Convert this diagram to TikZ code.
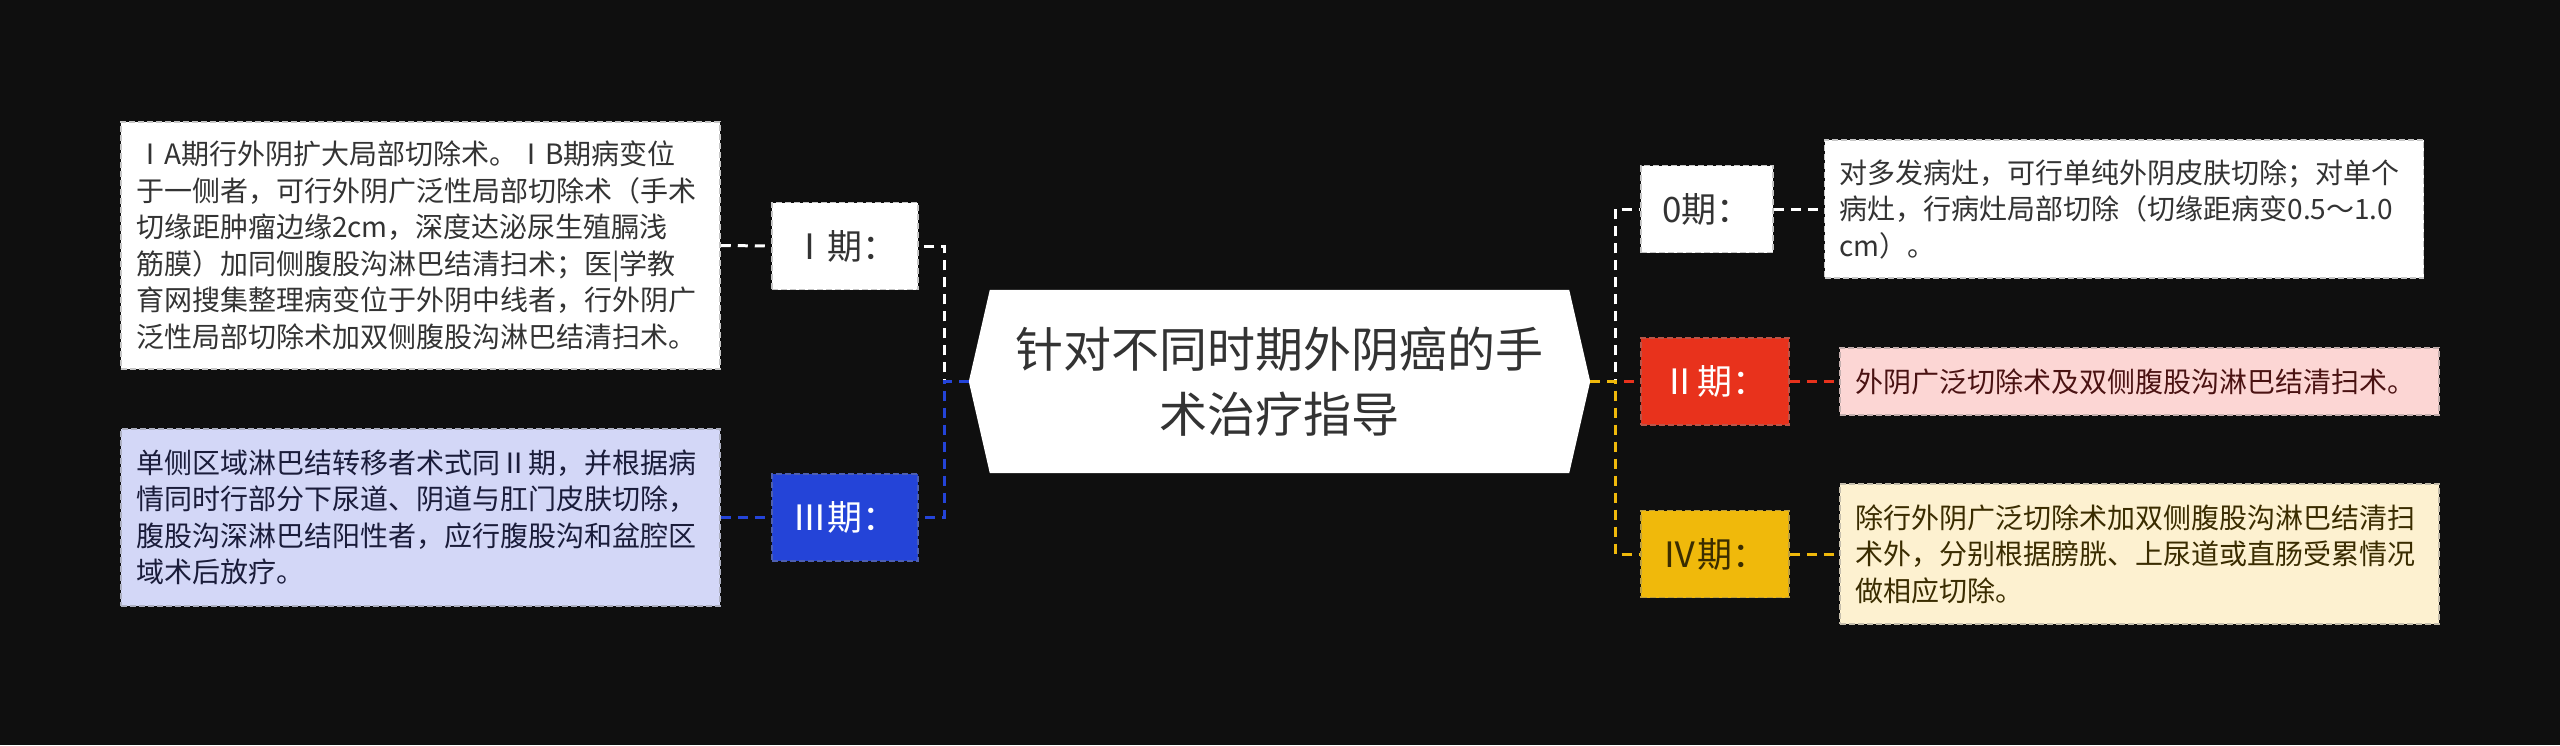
\documentclass[tikz,border=0pt]{standalone}
\usepackage{fontspec}
\setmainfont{Noto Sans CJK SC}
\usetikzlibrary{backgrounds}
\definecolor{bgc}{HTML}{0F0F0F}
\definecolor{ink}{HTML}{333333}
\definecolor{blu}{HTML}{2444D8}
\definecolor{blubox}{HTML}{D3D7F7}
\definecolor{bluink}{HTML}{1A1C3A}
\definecolor{rd}{HTML}{E8321C}
\definecolor{rdbox}{HTML}{FCD6D4}
\definecolor{rdink}{HTML}{4A1212}
\definecolor{yl}{HTML}{F0B90B}
\definecolor{ylbox}{HTML}{FDF1D0}
\definecolor{ylink}{HTML}{3A2C00}
\begin{document}
\begin{tikzpicture}[x=1pt,y=-1pt,
		box/.style={fill=#1,draw=#1!55!gray,line width=1.5pt,dash pattern=on 6pt off 3pt},
		txt/.style={box=#1,minimum width=599pt,text width=569pt,inner xsep=15pt,align=left,font=\fontsize{28}{36.5}\selectfont},
		lab/.style={box=#1,minimum height=87pt,inner xsep=0pt,font=\fontsize{35}{40}\selectfont},
		wire/.style={line width=3pt,dash pattern=on 10pt off 7pt}]
	\begin{scope}[on background layer]
		\fill[bgc] (0,0) rectangle (2560,745);
	\end{scope}
	\node[txt=white,text=ink,minimum height=247pt] (t1) at (420.5,245.5) {ⅠA期行外阴扩大局部切除术。ⅠB期病变位\\于一侧者，可行外阴广泛性局部切除术（手术\\切缘距肿瘤边缘2cm，深度达泌尿生殖膈浅\\筋膜）加同侧腹股沟淋巴结清扫术；医|学教\\育网搜集整理病变位于外阴中线者，行外阴广\\泛性局部切除术加双侧腹股沟淋巴结清扫术。};
	\node[txt=blubox,text=bluink,minimum height=177pt] (t3) at (420.5,517.5) {单侧区域淋巴结转移者术式同Ⅱ期，并根据病\\情同时行部分下尿道、阴道与肛门皮肤切除，\\腹股沟深淋巴结阳性者，应行腹股沟和盆腔区\\域术后放疗。};
	\node[lab=white,text=ink,minimum width=146pt] (l1) at (845,246) {Ⅰ期：};
	\node[lab=blu,text=white,minimum width=146pt] (l3) at (845,517.5) {Ⅲ期：};
	\node[minimum width=621pt,minimum height=183pt,inner sep=0pt,align=center,text=ink,font=\fontsize{48}{65}\selectfont] (root) at (1279.5,381.5) {针对不同时期外阴癌的手\\术治疗指导};
	\begin{scope}[on background layer]
		\fill[white] (root.west) -- ([xshift=21pt]root.north west) -- ([xshift=-21pt]root.north east) -- (root.east) -- ([xshift=-21pt]root.south east) -- ([xshift=21pt]root.south west) -- cycle;
	\end{scope}
	\node[lab=white,text=ink,minimum width=132pt] (l0) at (1707,209) {0期：};
	\node[lab=rd,text=white,minimum width=148pt] (l2) at (1715,381.5) {Ⅱ期：};
	\node[lab=yl,text=ylink,minimum width=148pt] (l4) at (1715,554) {Ⅳ期：};
	\node[txt=white,text=ink,minimum height=138pt] (t0) at (2124,209) {对多发病灶，可行单纯外阴皮肤切除；对单个\\病灶，行病灶局部切除（切缘距病变0.5～1.0\\cm）。};
	\node[txt=rdbox,text=rdink,minimum height=67pt] (t2) at (2139.5,381.5) {外阴广泛切除术及双侧腹股沟淋巴结清扫术。};
	\node[txt=ylbox,text=ylink,minimum height=140pt] (t4) at (2139.5,554) {除行外阴广泛切除术加双侧腹股沟淋巴结清扫\\术外，分别根据膀胱、上尿道或直肠受累情况\\做相应切除。};
	\coordinate (jl) at (944,381.5);
	\coordinate (jr) at (1615,381.5);
	\draw[wire,white] (root.west) -- (jl) |- (l1.east);
	\draw[wire,blu] (root.west) -- (jl) |- (l3.east);
	\draw[wire,white] (t1.east) -- (l1.west);
	\draw[wire,blu] (t3.east) -- (l3.west);
	\draw[wire,white] (root.east) -- (jr) |- (l0.west);
	\draw[wire,rd] (root.east) -- (l2.west);
	\draw[wire,yl] (root.east) -- (jr) |- (l4.west);
	\draw[wire,white] (l0.east) -- (t0.west);
	\draw[wire,rd] (l2.east) -- (t2.west);
	\draw[wire,yl] (l4.east) -- (t4.west);
\end{tikzpicture}
\end{document}
